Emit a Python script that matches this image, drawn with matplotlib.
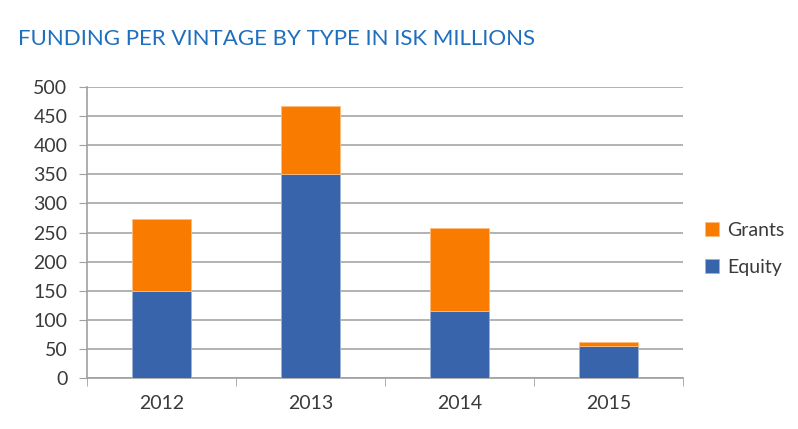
import numpy as np
import matplotlib.pyplot as plt

years = ['2012', '2013', '2014', '2015']
equity = [150, 350, 115, 55]
grants = [123, 117, 143, 7]

plt.rcParams['font.family'] = ['Lato', 'DejaVu Sans']

fig = plt.figure(figsize=(7.98, 4.29), dpi=100)
ax = fig.add_axes([0.109, 0.119, 0.747, 0.678])

x = np.arange(len(years))
b1 = ax.bar(x, equity, width=0.4, color='#3864AB', edgecolor='#9DB3D8', linewidth=0.6, label='Equity', zorder=3)
b2 = ax.bar(x, grants, width=0.4, bottom=equity, color='#F97B00', edgecolor='#FDBE80', linewidth=0.6, label='Grants', zorder=3)

ax.set_xlim(-0.5, 3.5)
ax.set_ylim(0, 500)
ax.set_yticks(range(0, 501, 50))
ax.set_xticks(x)
ax.set_xticklabels(years)
ax.set_xticks(np.arange(-0.5, 4, 1), minor=True)
ax.tick_params(axis='x', which='major', length=0, pad=12)
ax.tick_params(axis='x', which='minor', length=6, color='#A0A0A0', direction='out')
ax.tick_params(axis='y', length=6, color='#A0A0A0', pad=8)
ax.tick_params(labelsize=14, labelcolor='#3A3A3A')
ax.grid(axis='y', color='#A6A6A6', linewidth=1.2, zorder=0)

for s in ['top', 'right']:
    ax.spines[s].set_visible(False)
for s in ['left', 'bottom']:
    ax.spines[s].set_color('#A0A0A0')
    ax.spines[s].set_linewidth(1.2)

fig.text(0.022, 0.91, 'FUNDING PER VINTAGE BY TYPE IN ISK MILLIONS', fontsize=16,
         color='#1F6FBF', va='center', ha='left')

fig.legend([b2, b1], ['Grants', 'Equity'], loc='center left', bbox_to_anchor=(0.862, 0.42),
           frameon=False, fontsize=14, labelcolor='#3A3A3A', handlelength=0.7,
           handleheight=0.7, handletextpad=0.4, labelspacing=1.0)

fig.savefig('out.png', dpi=100)
